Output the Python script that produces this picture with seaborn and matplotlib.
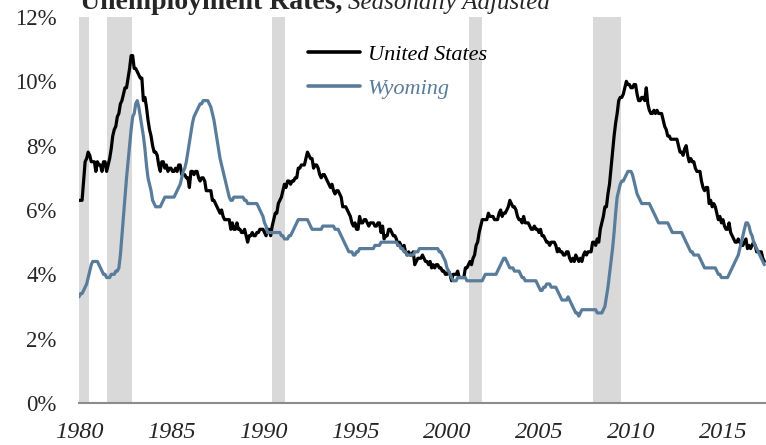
import numpy as np
import pandas as pd
import matplotlib
matplotlib.use("Agg")
import matplotlib.pyplot as plt
import seaborn as sns
from matplotlib.lines import Line2D

# monthly unemployment rate, Jan 1980 - Apr 2017 (seasonally adjusted, %)
us_rate = [
    6.3, 6.3, 6.3, 6.9, 7.5, 7.6, 7.8, 7.7, 7.5, 7.5, 7.5, 7.2,   # 1980
    7.5, 7.4, 7.4, 7.2, 7.5, 7.5, 7.2, 7.4, 7.6, 7.9, 8.3, 8.5,   # 1981
    8.6, 8.9, 9.0, 9.3, 9.4, 9.6, 9.8, 9.8, 10.1, 10.4, 10.8, 10.8,
    10.4, 10.4, 10.3, 10.2, 10.1, 10.1, 9.4, 9.5, 9.2, 8.8, 8.5, 8.3,
    8.0, 7.8, 7.8, 7.7, 7.4, 7.2, 7.5, 7.5, 7.3, 7.4, 7.2, 7.3,   # 1984
    7.3, 7.2, 7.2, 7.3, 7.2, 7.4, 7.4, 7.1, 7.1, 7.1, 7.0, 7.0,
    6.7, 7.2, 7.2, 7.1, 7.2, 7.2, 7.0, 6.9, 7.0, 7.0, 6.9, 6.6,
    6.6, 6.6, 6.6, 6.3, 6.3, 6.2, 6.1, 6.0, 5.9, 6.0, 5.8, 5.7,
    5.7, 5.7, 5.7, 5.4, 5.6, 5.4, 5.4, 5.6, 5.4, 5.4, 5.3, 5.3,   # 1988
    5.4, 5.2, 5.0, 5.2, 5.2, 5.3, 5.2, 5.2, 5.3, 5.3, 5.4, 5.4,
    5.4, 5.3, 5.2, 5.4, 5.4, 5.2, 5.5, 5.7, 5.9, 5.9, 6.2, 6.3,   # 1990
    6.4, 6.6, 6.8, 6.7, 6.9, 6.9, 6.8, 6.9, 6.9, 7.0, 7.0, 7.3,
    7.3, 7.4, 7.4, 7.4, 7.6, 7.8, 7.7, 7.6, 7.6, 7.3, 7.4, 7.4,
    7.3, 7.1, 7.0, 7.1, 7.1, 7.0, 6.9, 6.8, 6.7, 6.8, 6.6, 6.5,
    6.6, 6.6, 6.5, 6.4, 6.1, 6.1, 6.1, 6.0, 5.9, 5.8, 5.6, 5.5,   # 1994
    5.6, 5.4, 5.4, 5.8, 5.6, 5.6, 5.7, 5.7, 5.6, 5.5, 5.6, 5.6,
    5.6, 5.5, 5.5, 5.6, 5.6, 5.3, 5.5, 5.1, 5.2, 5.2, 5.4, 5.4,
    5.3, 5.2, 5.2, 5.1, 4.9, 5.0, 4.9, 4.8, 4.9, 4.7, 4.6, 4.7,
    4.6, 4.6, 4.7, 4.3, 4.4, 4.5, 4.5, 4.5, 4.6, 4.5, 4.4, 4.4,   # 1998
    4.3, 4.4, 4.2, 4.3, 4.2, 4.3, 4.3, 4.2, 4.2, 4.1, 4.1, 4.0,
    4.0, 4.1, 4.0, 3.8, 4.0, 4.0, 4.0, 4.1, 3.9, 3.9, 3.9, 3.9,   # 2000
    4.2, 4.2, 4.3, 4.4, 4.3, 4.5, 4.6, 4.9, 5.0, 5.3, 5.5, 5.7,
    5.7, 5.7, 5.7, 5.9, 5.8, 5.8, 5.8, 5.7, 5.7, 5.7, 5.9, 6.0,
    5.8, 5.9, 5.9, 6.0, 6.1, 6.3, 6.2, 6.1, 6.1, 6.0, 5.8, 5.7,
    5.7, 5.6, 5.8, 5.6, 5.6, 5.6, 5.5, 5.4, 5.4, 5.5, 5.4, 5.4,   # 2004
    5.3, 5.4, 5.2, 5.2, 5.1, 5.0, 5.0, 4.9, 5.0, 5.0, 5.0, 4.9,
    4.7, 4.8, 4.7, 4.7, 4.6, 4.6, 4.7, 4.7, 4.5, 4.4, 4.5, 4.4,
    4.6, 4.5, 4.4, 4.5, 4.4, 4.6, 4.7, 4.6, 4.7, 4.7, 4.7, 5.0,
    5.0, 4.9, 5.1, 5.0, 5.4, 5.6, 5.8, 6.1, 6.1, 6.5, 6.8, 7.3,   # 2008
    7.8, 8.3, 8.7, 9.0, 9.4, 9.5, 9.5, 9.6, 9.8, 10.0, 9.9, 9.9,
    9.8, 9.8, 9.9, 9.9, 9.6, 9.4, 9.4, 9.5, 9.5, 9.4, 9.8, 9.3,   # 2010
    9.1, 9.0, 9.0, 9.1, 9.0, 9.1, 9.0, 9.0, 9.0, 8.8, 8.6, 8.5,
    8.3, 8.3, 8.2, 8.2, 8.2, 8.2, 8.2, 8.0, 7.8, 7.8, 7.7, 7.9,
    8.0, 7.7, 7.5, 7.6, 7.5, 7.5, 7.3, 7.2, 7.2, 7.2, 6.9, 6.7,
    6.6, 6.7, 6.7, 6.2, 6.3, 6.1, 6.2, 6.1, 5.9, 5.7, 5.8, 5.6,   # 2014
    5.7, 5.5, 5.4, 5.4, 5.6, 5.3, 5.2, 5.1, 5.0, 5.0, 5.1, 5.0,
    4.9, 4.9, 5.0, 5.1, 4.8, 4.9, 4.8, 4.9, 5.0, 4.9, 4.7, 4.7,
    4.7, 4.7, 4.5, 4.4,                                           # 2017
]

wy_rate = [
    3.3, 3.4, 3.4, 3.5, 3.6, 3.7, 3.9, 4.1, 4.3, 4.4, 4.4, 4.4,   # 1980
    4.4, 4.3, 4.2, 4.1, 4.0, 4.0, 3.9, 3.9, 3.9, 4.0, 4.0, 4.0,
    4.1, 4.1, 4.2, 4.6, 5.2, 5.8, 6.4, 7.0, 7.5, 8.0, 8.5, 8.9,
    9.0, 9.3, 9.4, 9.2, 8.9, 8.6, 8.3, 7.9, 7.4, 7.0, 6.8, 6.6,
    6.3, 6.2, 6.1, 6.1, 6.1, 6.1, 6.2, 6.3, 6.4, 6.4, 6.4, 6.4,   # 1984
    6.4, 6.4, 6.4, 6.5, 6.6, 6.7, 6.8, 7.0, 7.2, 7.3, 7.5, 7.8,
    8.1, 8.4, 8.7, 8.9, 9.0, 9.1, 9.2, 9.3, 9.3, 9.4, 9.4, 9.4,
    9.4, 9.3, 9.2, 9.0, 8.8, 8.5, 8.2, 7.9, 7.6, 7.4, 7.2, 7.0,
    6.8, 6.6, 6.4, 6.3, 6.3, 6.4, 6.4, 6.4, 6.4, 6.4, 6.4, 6.4,   # 1988
    6.3, 6.3, 6.2, 6.2, 6.2, 6.2, 6.2, 6.2, 6.2, 6.1, 6.0, 5.9,
    5.8, 5.6, 5.5, 5.3, 5.3, 5.3, 5.3, 5.3, 5.3, 5.3, 5.3, 5.3,   # 1990
    5.2, 5.2, 5.1, 5.1, 5.1, 5.2, 5.2, 5.3, 5.4, 5.5, 5.6, 5.7,
    5.7, 5.7, 5.7, 5.7, 5.7, 5.7, 5.6, 5.5, 5.4, 5.4, 5.4, 5.4,
    5.4, 5.4, 5.4, 5.5, 5.5, 5.5, 5.5, 5.5, 5.5, 5.5, 5.5, 5.4,
    5.4, 5.4, 5.3, 5.2, 5.1, 5.0, 4.9, 4.8, 4.7, 4.7, 4.7, 4.6,   # 1994
    4.6, 4.7, 4.7, 4.8, 4.8, 4.8, 4.8, 4.8, 4.8, 4.8, 4.8, 4.8,
    4.8, 4.9, 4.9, 4.9, 4.9, 5.0, 5.0, 5.0, 5.0, 5.0, 5.0, 5.0,
    5.0, 5.0, 5.0, 5.0, 4.9, 4.9, 4.8, 4.8, 4.7, 4.7, 4.6, 4.6,
    4.6, 4.6, 4.6, 4.7, 4.7, 4.7, 4.8, 4.8, 4.8, 4.8, 4.8, 4.8,   # 1998
    4.8, 4.8, 4.8, 4.8, 4.8, 4.8, 4.8, 4.7, 4.7, 4.6, 4.5, 4.4,
    4.2, 4.1, 4.0, 3.9, 3.8, 3.8, 3.8, 3.9, 3.9, 3.9, 3.9, 3.9,   # 2000
    3.9, 3.8, 3.8, 3.8, 3.8, 3.8, 3.8, 3.8, 3.8, 3.8, 3.8, 3.8,
    3.9, 4.0, 4.0, 4.0, 4.0, 4.0, 4.0, 4.0, 4.0, 4.1, 4.2, 4.3,
    4.4, 4.5, 4.5, 4.4, 4.3, 4.2, 4.2, 4.2, 4.1, 4.1, 4.1, 4.1,
    4.0, 3.9, 3.9, 3.8, 3.8, 3.8, 3.8, 3.8, 3.8, 3.8, 3.8, 3.7,   # 2004
    3.6, 3.5, 3.5, 3.6, 3.6, 3.7, 3.7, 3.7, 3.6, 3.6, 3.6, 3.6,
    3.5, 3.4, 3.3, 3.2, 3.2, 3.2, 3.2, 3.3, 3.2, 3.1, 3.0, 2.9,
    2.8, 2.8, 2.7, 2.8, 2.9, 2.9, 2.9, 2.9, 2.9, 2.9, 2.9, 2.9,
    2.9, 2.9, 2.8, 2.8, 2.8, 2.8, 2.9, 3.0, 3.3, 3.6, 4.0, 4.4,   # 2008
    4.8, 5.3, 5.9, 6.4, 6.6, 6.8, 6.9, 6.9, 7.0, 7.1, 7.2, 7.2,
    7.2, 7.1, 6.9, 6.7, 6.5, 6.4, 6.3, 6.2, 6.2, 6.2, 6.2, 6.2,   # 2010
    6.2, 6.1, 6.0, 5.9, 5.8, 5.7, 5.6, 5.6, 5.6, 5.6, 5.6, 5.6,
    5.6, 5.5, 5.4, 5.3, 5.3, 5.3, 5.3, 5.3, 5.3, 5.3, 5.2, 5.1,
    5.0, 4.9, 4.8, 4.7, 4.7, 4.6, 4.6, 4.6, 4.6, 4.5, 4.4, 4.3,
    4.2, 4.2, 4.2, 4.2, 4.2, 4.2, 4.2, 4.2, 4.1, 4.0, 4.0, 3.9,   # 2014
    3.9, 3.9, 3.9, 3.9, 4.0, 4.1, 4.2, 4.3, 4.4, 4.5, 4.6, 4.8,
    5.0, 5.2, 5.4, 5.6, 5.6, 5.5, 5.3, 5.2, 5.0, 4.9, 4.8, 4.7,
    4.6, 4.5, 4.4, 4.3,                                           # 2017
]

# NBER recessions (start, end) as fractional years
recessions = [(1980.0, 1980.55), (1981.5, 1982.9), (1990.5, 1991.2),
              (2001.2, 2001.9), (2007.92, 2009.47)]
year_ticks = [1980, 1985, 1990, 1995, 2000, 2005, 2010, 2015]
pct_ticks = [0, 2, 4, 6, 8, 10, 12]
series_names = ["United States", "Wyoming"]
colors = ["#000000", "#5A7C9B"]

months = np.arange(len(us_rate))
t = 1980 + months / 12.0
df = pd.concat([
    pd.DataFrame({"t": t, "rate": us_rate, "series": series_names[0]}),
    pd.DataFrame({"t": t, "rate": wy_rate, "series": series_names[1]}),
])

sns.set_style("white")
plt.rcParams["font.family"] = ["Liberation Serif", "DejaVu Serif"]

fig = plt.figure(figsize=(7.66, 4.45), dpi=100)
ax = fig.add_axes([79 / 766, 42 / 445, 687 / 766, 386 / 445])

for a, b in recessions:
    ax.axvspan(a, b, color="#D9D9D9", lw=0, zorder=0)

sns.lineplot(data=df, x="t", y="rate", hue="series", palette=colors,
             linewidth=2.3, ax=ax, legend=False, zorder=3)

ax.set_xlim(1980, 2017.34)
ax.set_ylim(0, 12)
ax.set_xticks(year_ticks)
ax.set_xticklabels([str(y) for y in year_ticks], fontstyle="italic", fontsize=17.5)
ax.set_yticks(pct_ticks)
ax.set_yticklabels([f"{p}%" for p in pct_ticks], fontsize=16.5)
ax.tick_params(axis="x", length=0, pad=14)
ax.tick_params(axis="y", length=0, pad=16)
ax.set_xlabel("")
ax.set_ylabel("")
for s in ["top", "right", "left"]:
    ax.spines[s].set_visible(False)
ax.spines["bottom"].set_color("#8C8C8C")
ax.spines["bottom"].set_linewidth(1.5)

# legend
handles = [Line2D([], [], color=c, lw=2.6) for c in colors]
leg = ax.legend(handles, series_names, loc="upper left",
                bbox_to_anchor=(0.333, 0.93), frameon=False,
                prop={"style": "italic", "size": 16}, handlelength=2.35,
                handletextpad=0.35, labelspacing=0.62, borderpad=0,
                borderaxespad=0)
for txt, c in zip(leg.get_texts(), colors):
    txt.set_color(c)

# title, cut at the top as in the source
t1 = fig.text(80 / 766, 1 - 9 / 445, "Unemployment Rates,", fontsize=20,
              fontweight="bold", va="baseline", ha="left")
fig.canvas.draw()
bb = t1.get_window_extent()
fig.text((bb.x1 + 6) / 766, 1 - 9 / 445, "Seasonally Adjusted", fontsize=18,
         fontstyle="italic", va="baseline", ha="left")

fig.savefig("out.png", dpi=100)
